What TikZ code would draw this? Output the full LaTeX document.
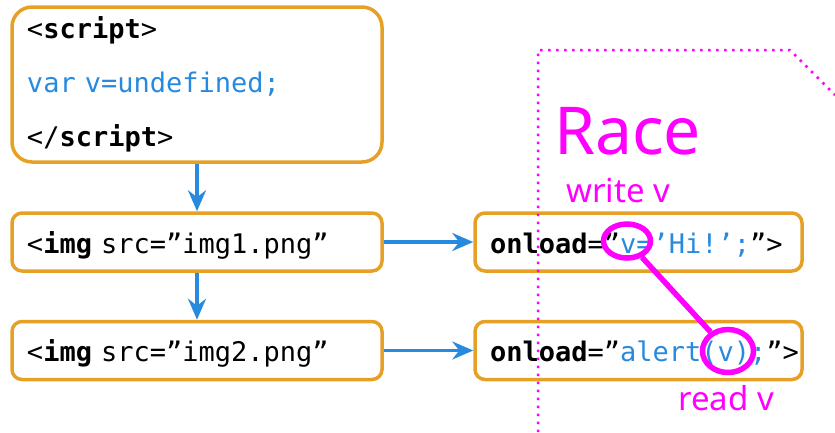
\documentclass[tikz,border=0pt]{standalone}
\usepackage{fontspec}
\usepackage{xcolor}
\usetikzlibrary{shapes.geometric,arrows.meta,positioning}
\setmonofont{DejaVu Sans Mono}
\newfontfamily\racefont{Noto Sans}
\definecolor{boxorange}{RGB}{230,160,38}
\definecolor{codeblue}{RGB}{40,138,222}
\definecolor{racemag}{RGB}{255,0,255}

\begin{document}
\begin{tikzpicture}[
  x=1pt, y=-1pt,
  font=\ttfamily\fontsize{27}{54}\selectfont,
  codebox/.style={draw=boxorange, line width=3.5pt, rounded corners=10pt, minimum height=58pt, align=left, inner xsep=15pt, inner ysep=0pt, text height=22pt, text depth=0pt},
  arr/.style={-{Stealth[length=21pt, width=18pt, inset=7pt]}, draw=codeblue, line width=3.5pt},
  ringmark/.style={draw=racemag, ellipse, line width=5.5pt, inner sep=0pt},
  racetxt/.style={text=racemag, anchor=base west, inner sep=0pt},
]
\useasboundingbox (0,0) rectangle (835,432);

% left column
\node[draw=boxorange, line width=3.5pt, rounded corners=20pt, minimum width=370pt, minimum height=155pt, text width=340pt, align=left, inner sep=0pt] (script) at (197,84.5)
  {<\textbf{script}>\\\textcolor{codeblue}{var v=undefined;}\\</\textbf{script}>};
\node[codebox, minimum width=370pt, text width=340pt] (imgA) at (197,242) {<\textbf{img} src=”img1.png”};
\node[codebox, minimum width=370pt, text width=340pt] (imgB) at (197,350.5) {<\textbf{img} src=”img2.png”};

% right column
\node[codebox, minimum width=327pt, text width=297pt] (loadA) at (638.5,242) {\textbf{onload}=”\textcolor{codeblue}{v=’Hi!’;}”>};
\node[codebox, minimum width=327pt, text width=297pt] (loadB) at (638.5,350.5) {\textbf{onload}=”\textcolor{codeblue}{alert(v);}”>};

\draw[arr] (script.south) -- (imgA.north);
\draw[arr] (imgA.south) -- (imgB.north);
\draw[arr] (imgA.east) -- (loadA.west);
\draw[arr] (imgB.east) -- (loadB.west);

% race region
\draw[racemag, line width=2.5pt, dash pattern=on 2.5pt off 5.5pt] (538,432) -- (538,50) -- (790,50) -- (835,95);
\node[racetxt, font=\racefont\fontsize{66}{70}\selectfont] (race) at (554,154) {Race};
\node[racetxt, font=\racefont\fontsize{33}{36}\selectfont] (writelbl) at (566,202) {write v};
\node[racetxt, font=\racefont\fontsize{33}{36}\selectfont] (readlbl) at (678,410) {read v};

\node[ringmark, minimum width=47pt, minimum height=34pt] (wv) at (627,241) {};
\node[ringmark, minimum width=51pt, minimum height=43pt] (rv) at (728,351) {};
\draw[racemag, line width=5.5pt] (wv) -- (rv);
\end{tikzpicture}
\end{document}
